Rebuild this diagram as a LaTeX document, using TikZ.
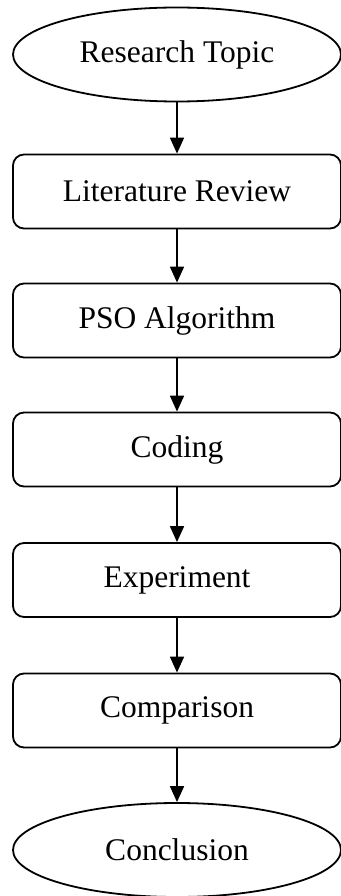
\documentclass[tikz,border=0pt]{standalone}
\usepackage{fontspec}
\setmainfont{Liberation Serif}
\usetikzlibrary{shapes.geometric,arrows.meta}
\begin{document}
\begin{tikzpicture}[x=1pt,y=-1pt,
  every node/.style={font=\fontsize{31.5}{36}\selectfont, inner sep=0pt},
  stepbox/.style={draw, line width=1.8pt, rounded corners=11pt, minimum width=328pt, minimum height=74pt},
  termbox/.style={ellipse, draw, line width=1.8pt, minimum width=328pt, minimum height=94pt},
  flow/.style={-{Triangle[width=14pt,length=16pt]}, line width=1.8pt}]
\useasboundingbox (0,0) rectangle (340,896);
\node[termbox] (t) at (177,54.5) {Research Topic};
\node[stepbox] (l) at (177,191.5) {Literature Review};
\node[stepbox] (p) at (177,320.5) {PSO Algorithm};
\node[stepbox] (c) at (177,449.5) {Coding};
\node[stepbox] (e) at (177,580) {Experiment};
\node[stepbox] (m) at (177,710.5) {Comparison};
\node[termbox] (z) at (177,850) {Conclusion};
\draw[flow] (t) -- (l);
\draw[flow] (l) -- (p);
\draw[flow] (p) -- (c);
\draw[flow] (c) -- (e);
\draw[flow] (e) -- (m);
\draw[flow] (m) -- (z);
\end{tikzpicture}
\end{document}
